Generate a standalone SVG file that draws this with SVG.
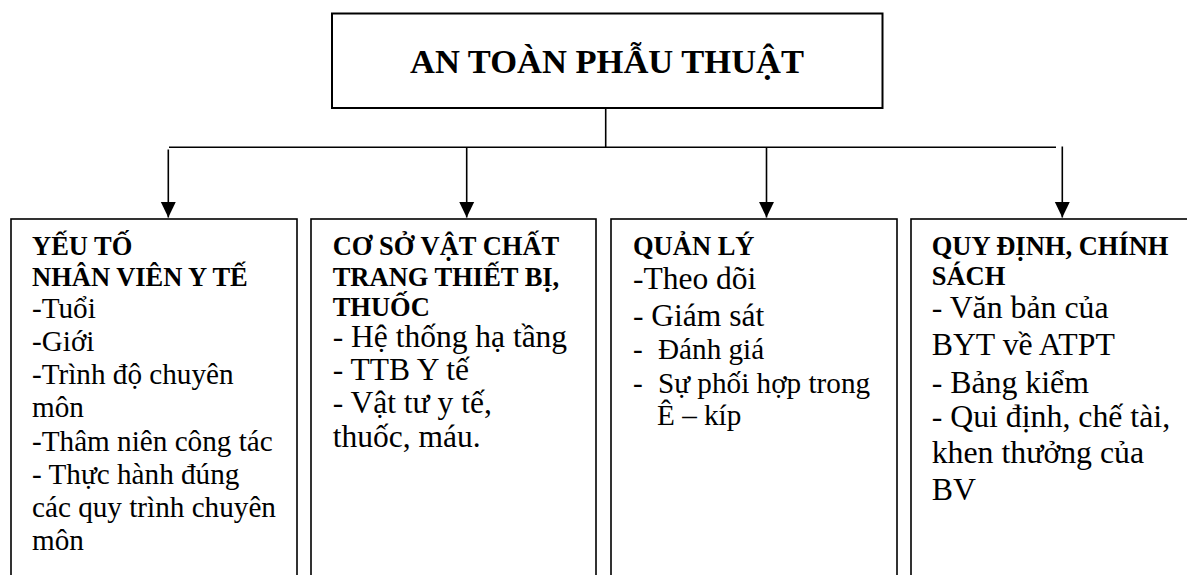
<svg xmlns="http://www.w3.org/2000/svg" width="1187" height="575" viewBox="0 0 1187 575">
<style>
.box{fill:#fff;stroke:#000;stroke-width:1.6}
.tbox{fill:#fff;stroke:#000;stroke-width:2}
.ln{stroke:#000;stroke-width:1.6;fill:none}
.arr{marker-end:url(#ah)}
.t{font-family:'Liberation Serif','Times New Roman',Tinos,'DejaVu Serif',serif;fill:#000}
.h{font-weight:bold;font-size:26.5px}
.title{font-weight:bold;font-size:34.5px}
.r29{font-size:29.2px}
.r31{font-size:31.5px}
.r32{font-size:31.8px}
</style>
<defs>
<marker id="ah" markerUnits="userSpaceOnUse" markerWidth="16" markerHeight="16" viewBox="0 0 16 16" refX="16" refY="8" orient="auto">
<path d="M0,0.3 L16,8 L0,15.7 z" fill="#000"/>
</marker>
</defs>
<g font-family="Liberation Serif, Times New Roman, DejaVu Serif, serif">
<g id="title">
<rect class="tbox" x="332" y="13.5" width="550.5" height="94.5"/>
<text class="t title" x="607" y="73" text-anchor="middle">AN TOÀN PHẪU THUẬT</text>
</g>
<g id="connectors">
<line class="ln" x1="605.7" y1="108" x2="605.7" y2="147.3"/>
<line class="ln" x1="169" y1="147.3" x2="1056" y2="147.3"/>
<line class="ln arr" x1="168.3" y1="149.5" x2="168.3" y2="217.5"/>
<line class="ln arr" x1="466.7" y1="147.3" x2="466.7" y2="217.5"/>
<line class="ln arr" x1="766.5" y1="147.3" x2="766.5" y2="217.5"/>
<line class="ln arr" x1="1062.3" y1="146.5" x2="1062.3" y2="217.5"/>
</g>
<g id="box1">
<rect class="box" x="11" y="219" width="286" height="400"/>
<text class="t h" x="32" y="255">YẾU TỐ</text>
<text class="t h" x="32" y="286">NHÂN VIÊN Y TẾ</text>
<text class="t r29" x="32" y="317.5">-Tuổi</text>
<text class="t r29" x="32" y="350.5">-Giới</text>
<text class="t r29" x="32" y="384">-Trình độ chuyên</text>
<text class="t r29" x="32" y="417">môn</text>
<text class="t r29" x="32" y="450.5">-Thâm niên công tác</text>
<text class="t r29" x="32" y="483.5">- Thực hành đúng</text>
<text class="t r29" x="32" y="517">các quy trình chuyên</text>
<text class="t r29" x="32" y="550">môn</text>
</g>
<g id="box2">
<rect class="box" x="311" y="219" width="285" height="400"/>
<text class="t h" x="332.7" y="255">CƠ SỞ VẬT CHẤT</text>
<text class="t h" x="332.7" y="285.5">TRANG THIẾT BỊ,</text>
<text class="t h" x="332.7" y="316">THUỐC</text>
<text class="t r31" x="332.7" y="346.7">- Hệ thống hạ tầng</text>
<text class="t r31" x="332.7" y="380">- TTB Y tế</text>
<text class="t r31" x="332.7" y="413">- Vật tư y tế,</text>
<text class="t r31" x="332.7" y="446.7">thuốc, máu.</text>
</g>
<g id="box3">
<rect class="box" x="611" y="219" width="286" height="400"/>
<text class="t h" x="633" y="255">QUẢN LÝ</text>
<text class="t r31" x="633" y="289">-Theo dõi</text>
<text class="t r31" x="633" y="325.5">- Giám sát</text>
<text class="t r29"><tspan x="633" y="358.5">-</tspan><tspan x="658" y="358.5">Đánh giá</tspan></text>
<text class="t r29"><tspan x="633" y="392.5">-</tspan><tspan x="658" y="392.5">Sự phối hợp trong</tspan></text>
<text class="t r29" x="657" y="425">Ê – kíp</text>
</g>
<g id="box4">
<rect class="box" x="911" y="219" width="300" height="400"/>
<text class="t h" x="931.7" y="255">QUY ĐỊNH, CHÍNH</text>
<text class="t h" x="931.7" y="285">SÁCH</text>
<text class="t r32" x="931.7" y="318.3">- Văn bản của</text>
<text class="t r32" x="931.7" y="355">BYT về ATPT</text>
<text class="t r32" x="931.7" y="392.5">- Bảng kiểm</text>
<text class="t r32" x="931.7" y="426.5">- Qui định, chế tài,</text>
<text class="t r32" x="931.7" y="463.3">khen thưởng của</text>
<text class="t r32" x="931.7" y="500">BV</text>
</g>
</g>
</svg>
